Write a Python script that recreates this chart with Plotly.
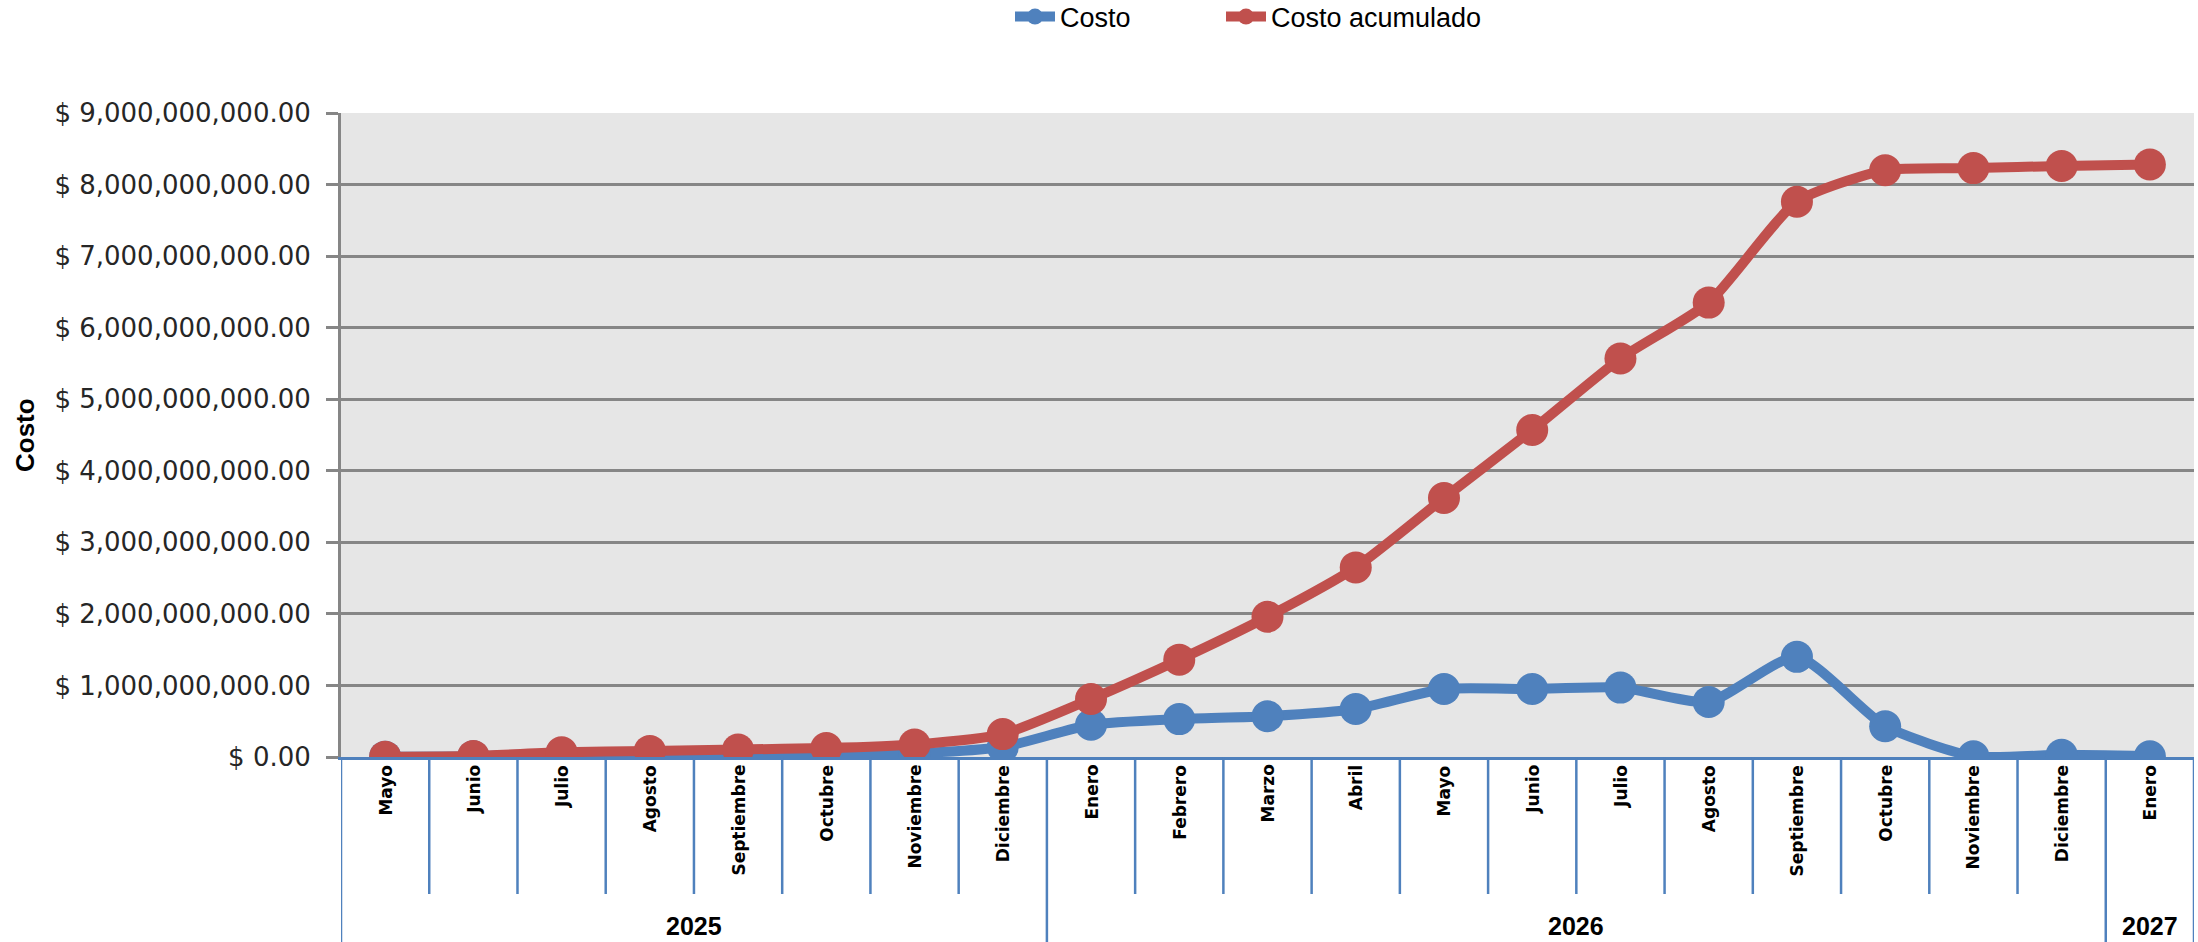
import plotly.graph_objects as go

months = ["Mayo", "Junio", "Julio", "Agosto", "Septiembre", "Octubre", "Noviembre",
          "Diciembre", "Enero", "Febrero", "Marzo", "Abril", "Mayo", "Junio", "Julio",
          "Agosto", "Septiembre", "Octubre", "Noviembre", "Diciembre", "Enero"]
year_labels = ["2025", "2026", "2027"]
year_counts = [8, 12, 1]

costo = [5e6, 10e6, 50e6, 20e6, 20e6, 20e6, 50e6, 140e6, 450e6, 530e6, 570e6,
         670e6, 950e6, 950e6, 970e6, 770e6, 1400e6, 430e6, 10e6, 30e6, 10e6]
costo_acumulado = [5e6, 15e6, 65e6, 85e6, 105e6, 125e6, 175e6, 320e6, 810e6, 1360e6,
                   1960e6, 2650e6, 3620e6, 4570e6, 5570e6, 6350e6, 7760e6, 8200e6,
                   8230e6, 8260e6, 8280e6]

y_ticks = [0, 1e9, 2e9, 3e9, 4e9, 5e9, 6e9, 7e9, 8e9, 9e9]
y_tick_labels = ["$ 0.00", "$ 1,000,000,000.00", "$ 2,000,000,000.00",
                 "$ 3,000,000,000.00", "$ 4,000,000,000.00", "$ 5,000,000,000.00",
                 "$ 6,000,000,000.00", "$ 7,000,000,000.00", "$ 8,000,000,000.00",
                 "$ 9,000,000,000.00"]

BLUE = "#4F81BD"
RED = "#C0504D"
W, H = 2198, 942
L, R, T, B = 341, 4, 113, 185
ph = H - T - B
pw = W - L - R
NARROW = "Liberation Sans Narrow, Liberation Sans, Arial Narrow"

x = list(range(len(months)))

fig = go.Figure()
fig.add_trace(go.Scatter(x=x, y=costo, name="Costo", mode="lines+markers",
                         line=dict(color=BLUE, width=10, shape="spline", smoothing=0.6),
                         marker=dict(color=BLUE, size=32), legend="legend"))
fig.add_trace(go.Scatter(x=x, y=costo_acumulado, name="Costo acumulado", mode="lines+markers",
                         line=dict(color=RED, width=10, shape="spline", smoothing=0.6),
                         marker=dict(color=RED, size=32), legend="legend2"))

def py(Y):
    return -(Y - (H - B)) / ph

shapes = []
annotations = []
n = len(months)
bounds = [-0.5]
acc = -0.5
for c in year_counts:
    acc += c
    bounds.append(acc)
for i in range(n + 1):
    xb = i - 0.5
    full = any(abs(xb - b) < 1e-9 for b in bounds)
    shapes.append(dict(type="line", xref="x", yref="paper", x0=xb, x1=xb,
                       y0=0, y1=py(945 if full else 894),
                       line=dict(color=BLUE, width=2.5)))
for i, m in enumerate(months):
    annotations.append(dict(x=i, y=py(763), xref="x", yref="paper", text=m,
                            textangle=-90, showarrow=False, xanchor="center", yanchor="top",
                            font=dict(family="DejaVu Sans", size=17, color="#000000",
                                      weight="bold")))
for k, yl in enumerate(year_labels):
    cx = (bounds[k] + bounds[k + 1]) / 2
    annotations.append(dict(x=cx, y=py(926), xref="x", yref="paper", text=yl,
                            showarrow=False, xanchor="center", yanchor="middle",
                            font=dict(family=NARROW, size=25, color="#000000",
                                      weight="bold")))
annotations.append(dict(x=(25 - L) / pw, y=py(435), xref="paper", yref="paper",
                        text="Costo", textangle=-90, showarrow=False,
                        xanchor="center", yanchor="middle",
                        font=dict(family=NARROW, size=26, color="#000000", weight="bold")))

legend_common = dict(orientation="h", y=py(17), xanchor="left", yanchor="middle",
                     font=dict(family=NARROW, size=27, color="#000000"),
                     itemwidth=40, bgcolor="rgba(0,0,0,0)")

fig.update_layout(
    width=W, height=H,
    margin=dict(l=L, r=R, t=T, b=B, autoexpand=False),
    paper_bgcolor="#FFFFFF",
    plot_bgcolor="#E6E6E6",
    showlegend=True,
    legend=dict(x=(1010 - L) / pw, **legend_common),
    legend2=dict(x=(1221 - L) / pw, **legend_common),
    xaxis=dict(range=[-0.5, n - 0.5], showticklabels=False, showgrid=False,
               zeroline=False, showline=True, linecolor=BLUE, linewidth=2.5,
               ticks=""),
    yaxis=dict(range=[0, 9e9], tickvals=y_ticks, ticktext=y_tick_labels,
               showgrid=True, gridcolor="#868686", gridwidth=2.5,
               zeroline=False, showline=True, linecolor="#868686", linewidth=3,
               ticks="outside", ticklen=12, tickcolor="#868686", tickwidth=2.5,
               tickfont=dict(family="DejaVu Sans", size=26, color="#262626"),
               ticklabelstandoff=10),
    shapes=shapes,
    annotations=annotations,
)

fig.write_html("out.html")
